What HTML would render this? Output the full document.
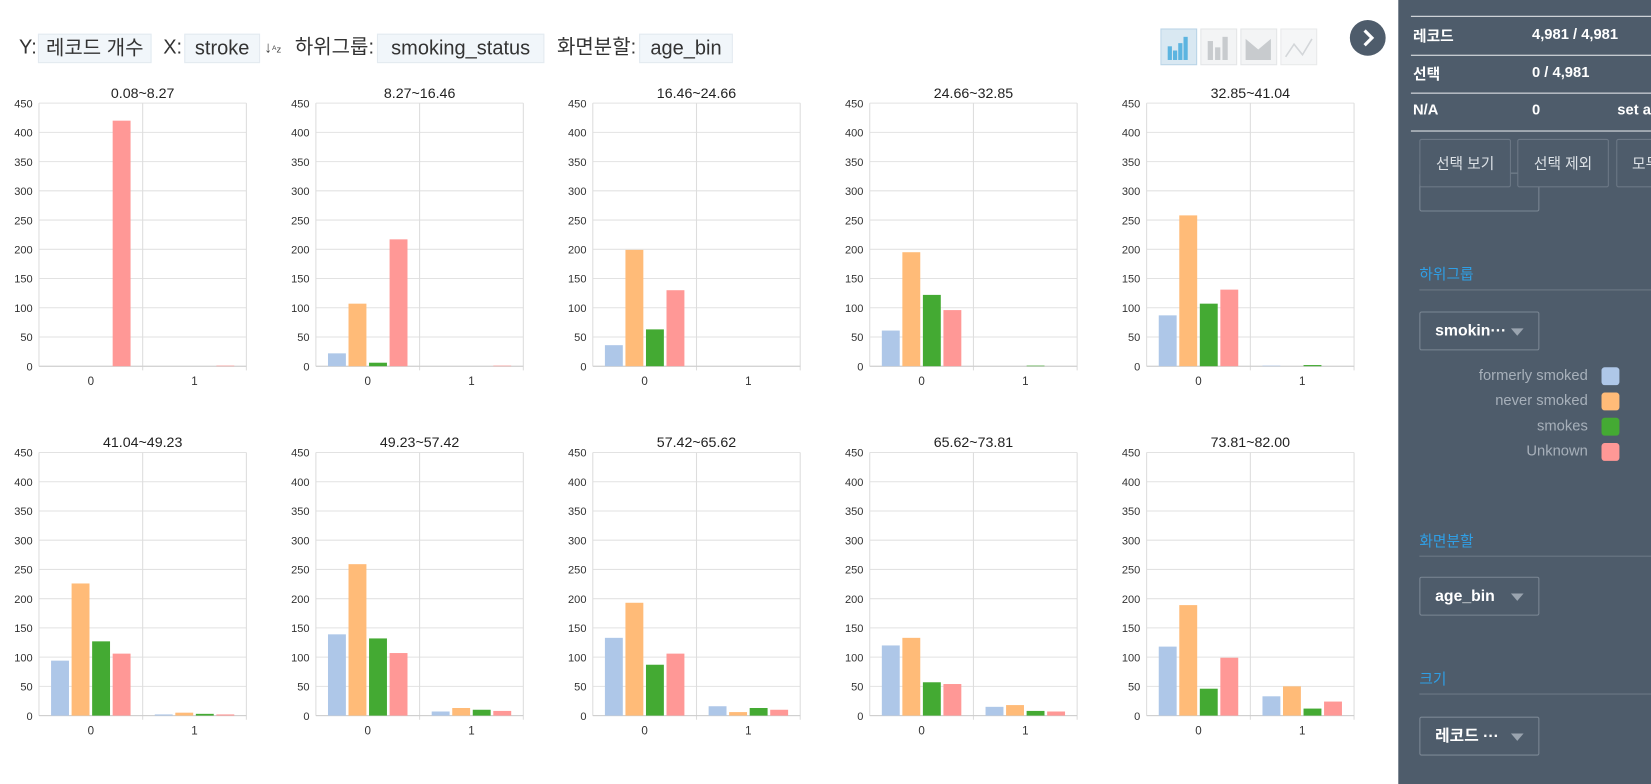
<!DOCTYPE html>
<html><head><meta charset="utf-8">
<style>
html,body{margin:0;padding:0;width:1651px;height:784px;overflow:hidden;background:#fff;}
#root{position:absolute;left:0;top:0;width:1568px;height:745px;transform-origin:0 0;transform:scale(1.05293,1.05235);font-family:"Liberation Sans","Noto Sans CJK KR",sans-serif;}
.abs{position:absolute;}
.hl{font-size:19px;color:#333;top:32px;height:28px;line-height:28px;}
.box{background:#f1f6fa;border:1px solid #e3eaf0;height:28px;line-height:28px;color:#333;font-size:19px;top:32px;text-align:center;box-sizing:border-box;}
#side{left:1328px;top:0;width:240px;height:745px;background:#4e5c6b;color:#fff;}
.sl{font-size:14px;font-weight:bold;color:#fff;}
.line{height:1px;background:#e6e9ec;}
.btn{border:1px solid #6c7886;border-radius:2px;height:44px;line-height:44px;text-align:center;color:#dde2e7;font-size:14px;top:132px;}
.dd{border:1px solid #7b8794;border-radius:2px;width:112px;height:35px;line-height:35px;color:#fff;font-size:15px;font-weight:bold;}
.dd span.tri{position:absolute;right:14px;top:15px;width:0;height:0;border-left:6px solid transparent;border-right:6px solid transparent;border-top:7px solid #9aa4af;}
.blue{color:#2f9fe6;font-size:14px;}
.leg{font-size:14px;color:#a7b0ba;text-align:right;width:200px;}
.sw{width:17px;height:17px;border-radius:3px;}
</style></head><body>
<div id="root">
<div class="abs hl" style="left:18px">Y:</div>
<div class="abs box" style="left:36px;width:108px">레코드 개수</div>
<div class="abs hl" style="left:155px">X:</div>
<div class="abs box" style="left:175px;width:72px">stroke</div>
<div class="abs" style="left:251px;top:37px;font-size:15px;color:#444">↓<span style="font-size:9px">ᴬz</span></div>
<div class="abs hl" style="left:280px">하위그룹:</div>
<div class="abs box" style="left:358px;width:159px">smoking_status</div>
<div class="abs hl" style="left:529px">화면분할:</div>
<div class="abs box" style="left:607px;width:89px">age_bin</div>

<svg class="abs" style="left:1102px;top:27px" width="165" height="36">
 <g><rect x="0.5" y="0.5" width="34" height="34" fill="#d9e8f2" stroke="#b8d3e6"/><rect x="7" y="17" width="4" height="13" fill="#5cb4e0"/><rect x="12" y="21" width="4" height="9" fill="#5cb4e0"/><rect x="17" y="14" width="4" height="16" fill="#5cb4e0"/><rect x="22" y="8" width="4" height="22" fill="#5cb4e0"/></g>
 <g><rect x="38.5" y="0.5" width="34" height="34" fill="#f3f4f5" stroke="#e3e5e7"/><rect x="45" y="12" width="5" height="18" fill="#c8cbce"/><rect x="52" y="18" width="5" height="12" fill="#c8cbce"/><rect x="59" y="8" width="5" height="22" fill="#c8cbce"/></g>
 <g><rect x="76.5" y="0.5" width="34" height="34" fill="#f3f4f5" stroke="#e3e5e7"/><path d="M81 10 L93 20 L105 10 L105 30 L81 30Z" fill="#c8cbce"/></g>
 <g><rect x="114.5" y="0.5" width="34" height="34" fill="#f5f6f7" stroke="#e8e9ea"/><polyline points="119,27 127,15 135,25 144,10" fill="none" stroke="#d3d6d9" stroke-width="1.5"/></g>
</svg>
<div class="abs" style="left:1282px;top:19px;width:34px;height:34px;border-radius:50%;background:#4e5c6b"><svg width="34" height="34"><polyline points="14,10 21,17 14,24" fill="none" stroke="#fff" stroke-width="3"/></svg></div>

<svg id="charts" class="abs" style="left:0;top:0" width="1320" height="745"></svg>

<div id="side" class="abs">
 <div class="abs line" style="left:12px;top:15px;width:228px"></div>
 <div class="abs sl" style="left:14px;top:24px">레코드</div>
 <div class="abs sl" style="left:127px;top:24px">4,981 / 4,981</div>
 <div class="abs line" style="left:12px;top:52px;width:228px"></div>
 <div class="abs sl" style="left:14px;top:60px">선택</div>
 <div class="abs sl" style="left:127px;top:60px">0 / 4,981</div>
 <div class="abs line" style="left:12px;top:88px;width:228px"></div>
 <div class="abs sl" style="left:14px;top:96px">N/A</div>
 <div class="abs sl" style="left:127px;top:96px">0</div>
 <div class="abs sl" style="left:208px;top:96px">set a</div>
 <div class="abs line" style="left:12px;top:124px;width:228px"></div>
 <div class="abs dd" style="left:20px;top:164px;height:35px"></div>
 <div class="abs btn" style="left:20px;width:85px;background:#4e5c6b">선택 보기</div>
 <div class="abs btn" style="left:113px;width:85px;background:#4e5c6b">선택 제외</div>
 <div class="abs btn" style="left:207px;width:60px;background:#4e5c6b;text-align:left;padding-left:14px">모두</div>
 <div class="abs blue" style="left:20px;top:250px">하위그룹</div>
 <div class="abs line" style="left:20px;top:275px;width:220px;background:#6d7986"></div>
 <div class="abs dd" style="left:20px;top:296px"><span style="padding-left:14px">smokin···</span><span class="tri"></span></div>
 <div class="abs leg" style="left:-20px;top:348px">formerly smoked</div>
 <div class="abs sw" style="left:193px;top:349px;background:#aec7e8"></div>
 <div class="abs leg" style="left:-20px;top:372px">never smoked</div>
 <div class="abs sw" style="left:193px;top:373px;background:#ffbb78"></div>
 <div class="abs leg" style="left:-20px;top:396px">smokes</div>
 <div class="abs sw" style="left:193px;top:397px;background:#44aa33"></div>
 <div class="abs leg" style="left:-20px;top:420px">Unknown</div>
 <div class="abs sw" style="left:193px;top:421px;background:#ff9896"></div>
 <div class="abs blue" style="left:20px;top:504px">화면분할</div>
 <div class="abs line" style="left:20px;top:528px;width:220px;background:#6d7986"></div>
 <div class="abs dd" style="left:20px;top:548px"><span style="padding-left:14px">age_bin</span><span class="tri"></span></div>
 <div class="abs blue" style="left:20px;top:635px">크기</div>
 <div class="abs line" style="left:20px;top:659px;width:220px;background:#6d7986"></div>
 <div class="abs dd" style="left:20px;top:681px"><span style="padding-left:14px">레코드 ···</span><span class="tri"></span></div>
</div>
</div>
<script>
const panels = ["0.08~8.27","8.27~16.46","16.46~24.66","24.66~32.85","32.85~41.04","41.04~49.23","49.23~57.42","57.42~65.62","65.62~73.81","73.81~82.00"];
const categories = ["0","1"];
const seriesNames = ["formerly smoked","never smoked","smokes","Unknown"];
const formerlySmoked = [[0,0],[22,0],[36,0],[61,0],[87,1],[94,2],[139,7],[133,16],[120,15],[118,33]];
const neverSmoked =    [[0,0],[107,0],[199,0],[195,0],[258,0],[226,5],[259,13],[193,6],[133,18],[189,50]];
const smokes =         [[0,0],[6,0],[63,0],[122,1],[107,2],[127,3],[132,10],[87,13],[57,8],[46,12]];
const unknown =        [[420,1],[217,1],[130,0],[96,0],[131,0],[106,2],[107,8],[106,10],[54,7],[99,24]];
const yTicks = [0,50,100,150,200,250,300,350,400,450];
const colors = ["#aec7e8","#ffbb78","#44aa33","#ff9896"];
const series = [formerlySmoked, neverSmoked, smokes, unknown];
const svg = document.getElementById('charts');
const NS = "http://www.w3.org/2000/svg";
function mk(tag, attrs, parent){const e=document.createElementNS(NS,tag);for(const k in attrs)e.setAttribute(k,attrs[k]);parent.appendChild(e);return e;}
const yMax = 450;
panels.forEach((title, p) => {
  const col = p % 5, row = Math.floor(p / 5);
  const x0 = 37 + col * 263, x1 = x0 + 197;
  const yTop = 98 + row * 332, yBot = yTop + 250;
  const yS = v => yBot - v / yMax * (yBot - yTop);
  const xC = i => x0 + (i + 0.5) * (x1 - x0) / categories.length;
  const g = mk('g', {}, svg);
  
  
  const t = mk('text', {x:(x0+x1)/2, y:yTop-5, 'text-anchor':'middle', 'font-size':13.5, fill:'#222', 'font-family':'Liberation Sans, sans-serif'}, g);
  t.textContent = title;
  
  
  yTicks.forEach(v => {
    mk('line', {x1:x0, x2:x1, y1:yS(v), y2:yS(v), stroke:'#e2e2e2', 'stroke-width':1}, g);
    const l = mk('text', {x:x0-6, y:yS(v)+4, 'text-anchor':'end', 'font-size':10.5, fill:'#333', 'font-family':'Liberation Sans, sans-serif'}, g);
    l.textContent = v;
    
    
  });
  mk('line', {x1:x0, x2:x0, y1:yTop, y2:yBot, stroke:'#ddd'}, g);
  mk('line', {x1:x1, x2:x1, y1:yTop, y2:yBot+4, stroke:'#ddd'}, g);
  mk('line', {x1:(x0+x1)/2, x2:(x0+x1)/2, y1:yTop, y2:yBot+4, stroke:'#ddd'}, g);
  mk('line', {x1:x0, x2:x1, y1:yBot, y2:yBot, stroke:'#ccc'}, g);
  categories.forEach((c, ci) => {
    const xl = mk('text', {x:xC(ci), y:yBot+18, 'text-anchor':'middle', 'font-size':11, fill:'#333', 'font-family':'Liberation Sans, sans-serif'}, g);
    xl.textContent = c;
    
    
    const bw = 17, gap = 2.5, total = 4*bw + 3*gap;
    series.forEach((s, si) => {
      const v = s[p][ci];
      const bx = xC(ci) - total/2 + si*(bw+gap);
      const r = mk('rect', {x:bx, y:yS(v), width:bw, height:Math.max(0, yBot - yS(v)), fill:colors[si]}, g);
      
      
    });
  });
});
</script>
</body></html>
